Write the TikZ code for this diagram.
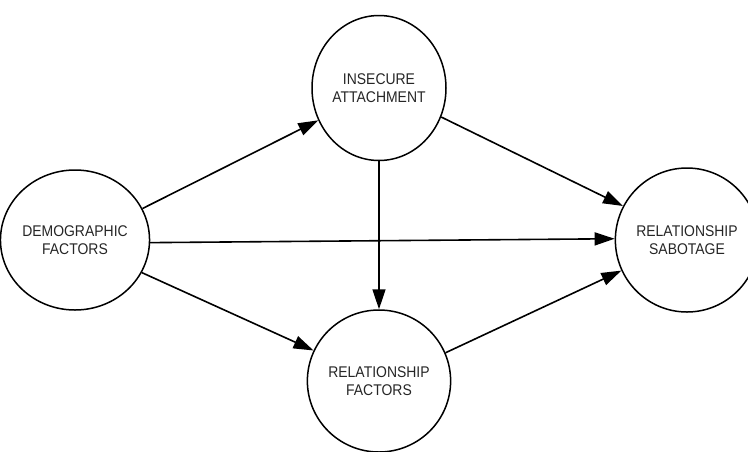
\documentclass[tikz,border=0pt]{standalone}
\usepackage{fontspec}
\setmainfont{Liberation Sans}
\newfontfamily\labelfont[FakeStretch=0.9]{Liberation Sans}
\usetikzlibrary{arrows.meta,shapes.geometric}

\begin{document}
\begin{tikzpicture}[x=1pt,y=-1pt,
  construct/.style={ellipse, draw=black, line width=1.5pt, fill=white,
    minimum width=134pt, minimum height=142pt, inner sep=0pt,
    align=center, text=black!85,
    font=\labelfont\fontsize{15.5pt}{18.5pt}\selectfont},
  path link/.style={draw=black, line width=1.6pt,
    -{Triangle[length=20pt,width=13pt]}}]
  \useasboundingbox (0,0) rectangle (748,451);
  \fill[white] (0,0) rectangle (748,451);

  % constructs of the model
  \node[construct, minimum width=134pt, minimum height=140pt] (demo) at (75,240) {DEMOGRAPHIC\\FACTORS};
  \node[construct, minimum height=145pt] (insec) at (379,88) {INSECURE\\ATTACHMENT};
  \node[construct] (relf) at (379,381) {RELATIONSHIP\\FACTORS};
  \node[construct, minimum width=132pt, minimum height=144pt] (sabo) at (687,240) {RELATIONSHIP\\SABOTAGE};

  % hypothesised paths
  \draw[path link] (demo.25.8) -- (insec.-152.3);
  \draw[path link] (demo.-2.5) -- (sabo.179);
  \draw[path link] (demo.-26.6) -- (relf.155.7);
  \draw[path link] (insec.south) -- (relf.north);
  \draw[path link] (insec.-25.8) -- (sabo.152.7);
  \draw[path link] (relf.23.5) -- (sabo.-155.7);
\end{tikzpicture}
\end{document}
